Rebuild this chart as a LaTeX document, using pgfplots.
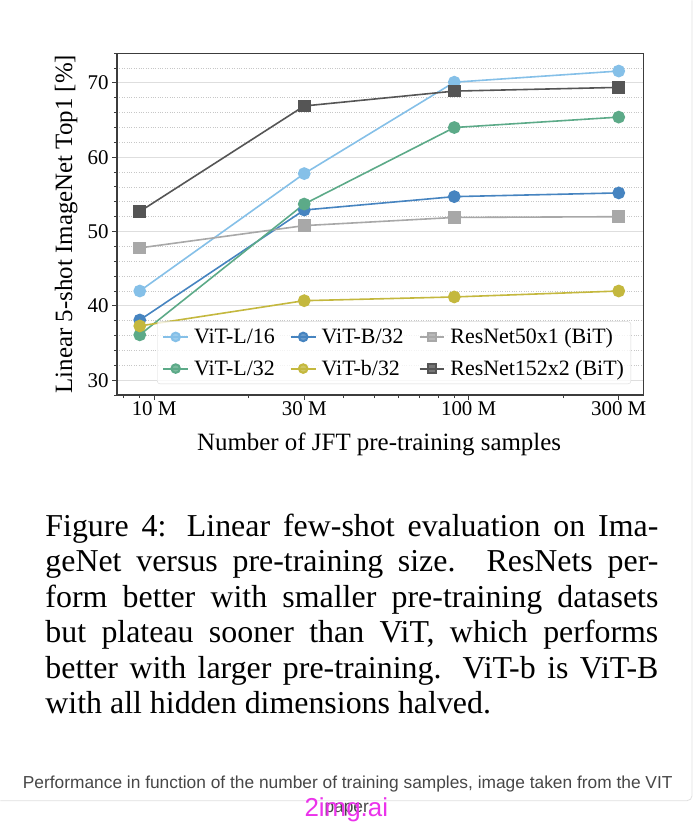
\documentclass[border=0pt]{standalone}
\usepackage{fontspec}
\setmainfont{Liberation Serif}
\newfontfamily\capsans{Liberation Sans}
\usepackage{pgfplots}
\pgfplotsset{compat=1.18}

\definecolor{vitl16}{RGB}{133,192,232}
\definecolor{vitb32}{RGB}{70,132,192}
\definecolor{vitl32}{RGB}{92,170,136}
\definecolor{vitsb32}{RGB}{196,184,62}
\definecolor{rn50}{RGB}{168,168,168}
\definecolor{rn152}{RGB}{85,85,85}
\definecolor{spine}{RGB}{60,60,60}
\definecolor{wmark}{RGB}{235,50,235}

\begin{document}
\begin{tikzpicture}[x=1pt,y=1pt]
\fill[white] (0,0) rectangle (700,822);

\begin{axis}[
    at={(117pt,426pt)}, anchor=south west,
    width=528pt, height=343pt, scale only axis,
    xmode=log,
    xmin=7.62e6, xmax=3.59e8,
    ymin=28, ymax=74,
    xtick={1e7,3e7,1e8,3e8},
    xticklabels={10 M,30 M,100 M,300 M},
    minor xtick={8e6,9e6,2e7,4e7,5e7,6e7,7e7,8e7,9e7,2e8},
    ytick={30,40,50,60,70},
    minor ytick={28,32,34,36,38,42,44,46,48,52,54,56,58,62,64,66,68,72,74},
    xtick pos=bottom, ytick pos=left,
    tick align=outside,
    major tick length=5pt, minor tick length=3pt,
    ymajorgrids, yminorgrids,
    major grid style={color=black!13, line width=1.1pt},
    minor grid style={color=black!22, dotted, line width=0.9pt},
    axis line style={color=spine, line width=1.2pt},
    every tick/.style={color=spine, line width=1pt},
    /pgf/number format/assume math mode=true,
    tick label style={font=\fontsize{21}{21}\selectfont},
    xticklabel style={yshift=2pt},
    label style={font=\fontsize{25}{25}\selectfont},
    xlabel={Number of JFT pre-training samples},
    ylabel={Linear 5-shot ImageNet Top1 [\%]},
    xlabel style={at={(axis description cs:0.498,-0.163)}, anchor=base},
    ylabel style={at={(axis description cs:-0.0966,0.5)}, anchor=center},
    legend columns=3,
    legend cell align=left,
    legend style={at={(0.076,0.032)}, anchor=south west,
        draw=black!15, rounded corners=3pt,
        fill=white, fill opacity=0.8, text opacity=1, draw opacity=1,
        font=\fontsize{22}{22}\selectfont,
        inner xsep=5pt, inner ysep=5pt, row sep=11pt,
        /tikz/every odd column/.append style={column sep=3pt},
        /tikz/every even column/.append style={column sep=13pt}},
    legend image code/.code={
        \draw[#1, line width=2pt, mark size=4.3pt, mark repeat=2, mark phase=2]
            plot coordinates {(0pt,0pt) (12.5pt,0pt) (25pt,0pt)};},
]

% ViT-L/16
\addplot[color=vitl16, line width=1.6pt, mark=*, mark size=5.6pt,
    mark options={solid, fill=vitl16, draw=vitl16}]
    coordinates {(9e6,42.0) (3e7,57.8) (9e7,70.1) (3e8,71.6)};
\addlegendentry{ViT-L/16}

% ViT-B/32
\addplot[color=vitb32, line width=1.6pt, mark=*, mark size=5.6pt,
    mark options={solid, fill=vitb32, draw=vitb32}]
    coordinates {(9e6,38.1) (3e7,52.9) (9e7,54.7) (3e8,55.2)};
\addlegendentry{ViT-B/32}

% ResNet50x1 (BiT)
\addplot[color=rn50, line width=1.6pt, mark=square*, mark size=5.6pt,
    mark options={solid, fill=rn50, draw=rn50}]
    coordinates {(9e6,47.8) (3e7,50.8) (9e7,51.9) (3e8,52.0)};
\addlegendentry{ResNet50x1 (BiT)}

% ViT-L/32
\addplot[color=vitl32, line width=1.6pt, mark=*, mark size=5.6pt,
    mark options={solid, fill=vitl32, draw=vitl32}]
    coordinates {(9e6,36.1) (3e7,53.7) (9e7,64.0) (3e8,65.4)};
\addlegendentry{ViT-L/32}

% ViT-b/32
\addplot[color=vitsb32, line width=1.6pt, mark=*, mark size=5.6pt,
    mark options={solid, fill=vitsb32, draw=vitsb32}]
    coordinates {(9e6,37.3) (3e7,40.7) (9e7,41.2) (3e8,42.0)};
\addlegendentry{ViT-b/32}

% ResNet152x2 (BiT)
\addplot[color=rn152, line width=1.6pt, mark=square*, mark size=5.6pt,
    mark options={solid, fill=rn152, draw=rn152}]
    coordinates {(9e6,52.7) (3e7,66.9) (9e7,68.9) (3e8,69.4)};
\addlegendentry{ResNet152x2 (BiT)}

\end{axis}

% paper caption
\begin{scope}[every node/.style={anchor=base west, inner sep=0pt,
    font=\fontsize{32}{32}\selectfont}]
\node at (45,284) {\makebox[615pt][s]{Figure 4: Linear few-shot evaluation on Ima-}};
\node at (45,248.5) {\makebox[615pt][s]{geNet versus pre-training size. ResNets per-}};
\node at (45,213) {\makebox[615pt][s]{form better with smaller pre-training datasets}};
\node at (45,177.5) {\makebox[615pt][s]{but plateau sooner than ViT, which performs}};
\node at (45,142) {\makebox[615pt][s]{better with larger pre-training. ViT-b is ViT-B}};
\node at (45,106.5) {with all hidden dimensions halved.};
\end{scope}

% page frame
\draw[black!12, line width=0.8pt, rounded corners=5pt] (0,19) -- (694,19) -- (694,822);

% web caption
\node[anchor=base, inner sep=0pt, text=black!72, font=\capsans\fontsize{17.4}{17.4}\selectfont]
    at (348.5,31) {Performance in function of the number of training samples, image taken from the VIT};
\node[anchor=base west, inner sep=0pt, text=black!72, font=\capsans\fontsize{17.4}{17.4}\selectfont]
    at (325,7) {paper.};
\node[anchor=base west, inner sep=0pt, text=wmark, font=\capsans\fontsize{26}{26}\selectfont]
    at (305,3) {2img.ai};
\end{tikzpicture}
\end{document}
